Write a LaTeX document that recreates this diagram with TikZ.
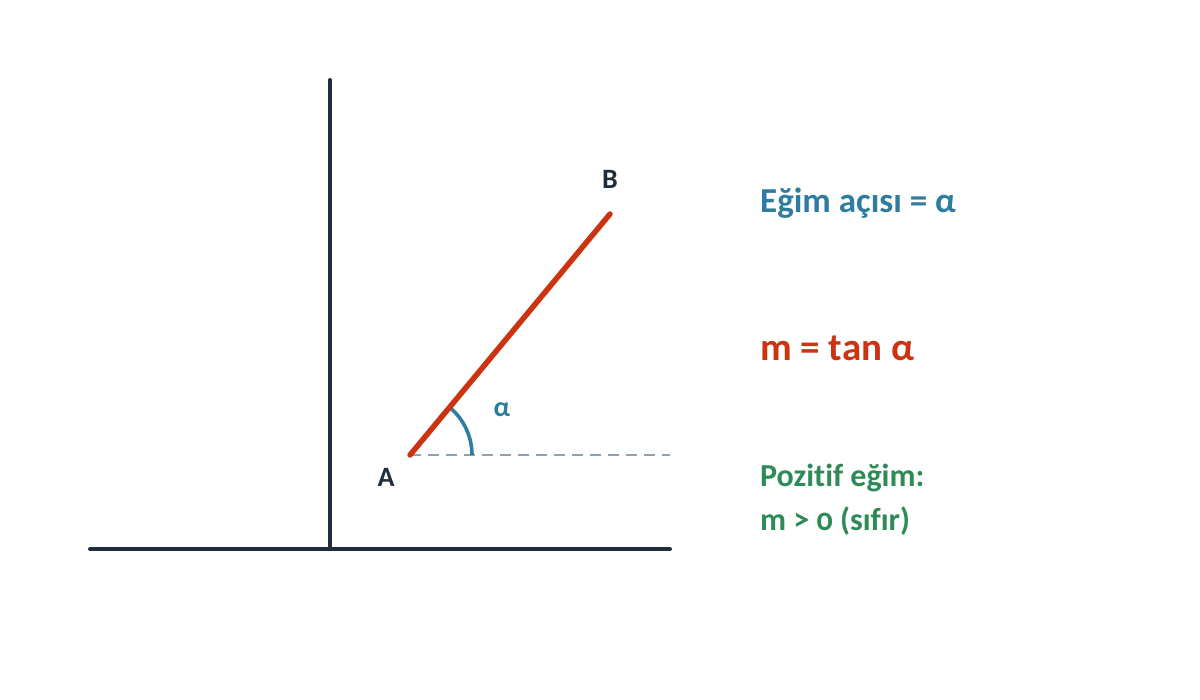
\documentclass[tikz,border=0pt]{standalone}
\usepackage{fontspec}
\setmainfont[Ligatures=NoCommon]{Carlito}
\usetikzlibrary{calc}
\definecolor{axiscol}{HTML}{1F2D3D}
\definecolor{redcol}{HTML}{CC3311}
\definecolor{bluecol}{HTML}{2E7D9E}
\definecolor{greencol}{HTML}{2E8B57}
\definecolor{dashcol}{HTML}{8FA0B0}
\begin{document}
\begin{tikzpicture}[x=1pt,y=-1pt,
  axisline/.style={draw=axiscol,line width=4pt,line cap=round},
  ptlabel/.style={font=\fontsize{28}{32}\selectfont\bfseries,text=axiscol,inner sep=0pt},
  infotext/.style={font=\fontsize{35}{40}\selectfont\bfseries,anchor=west,inner sep=0pt}]
\useasboundingbox (0,0) rectangle (1200,700);
% axes
\coordinate (ytop) at (330,80);
\coordinate (ybot) at (330,549);
\coordinate (xl) at (90,549);
\coordinate (xr) at (670,549);
\draw[axisline] (ytop) -- (ybot);
\draw[axisline] (xl) -- (xr);
% points
\coordinate (A) at (410,455);
\coordinate (B) at (610,214);
\coordinate (H) at (670,455);
\draw[dashcol,line width=2.6pt,dash pattern=on 11pt off 7pt] (A) -- (H);
\draw[bluecol,line width=3.6pt] ($(A)+(62,0)$) arc[start angle=0,end angle=-50.3,radius=62];
\draw[redcol,line width=5.5pt,line cap=round] (A) -- (B);
\node[ptlabel] (lA) at (386,477) {A};
\node[ptlabel] (lB) at (610,179) {B};
\node[ptlabel,text=bluecol] (lal) at (502,410) {α};
% texts
\node[infotext,text=bluecol] (t1) at (760,203) {Eğim açısı = α};
\node[infotext,text=redcol,font=\fontsize{39}{44}\selectfont\bfseries] (t2) at (760,348) {m = tan α};
\node[infotext,text=greencol,font=\fontsize{32}{36}\selectfont\bfseries] (t3) at (760,478) {Pozitif eğim:};
\node[infotext,text=greencol,font=\fontsize{32}{36}\selectfont\bfseries] (t4) at (760,521) {m > {\addfontfeatures{Numbers=OldStyle}0} (sıfır)};
\end{tikzpicture}
\end{document}
